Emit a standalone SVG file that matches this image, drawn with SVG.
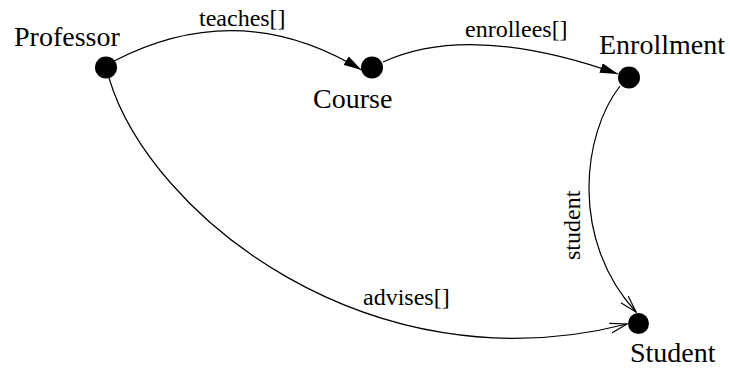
<svg xmlns="http://www.w3.org/2000/svg" width="730" height="371" viewBox="0 0 730 371">
<style>
  text { fill: #000; font-family: Liberation Serif, Times New Roman, Times, DejaVu Serif, serif; }
  .name { font-size: 28px; }
  .lbl { font-size: 24px; }
  .dot { fill: #000; }
  .edge { fill: none; stroke: #000; stroke-width: 1.2; }
</style>
<defs>
  <marker id="filled" viewBox="0 0 18 10" refX="18" refY="5" markerWidth="18" markerHeight="10" markerUnits="userSpaceOnUse" orient="auto">
    <path d="M0,0 L18,5 L0,10 Z" fill="#000"/>
  </marker>
  <marker id="open" viewBox="0 0 18 12" refX="17" refY="6" markerWidth="18" markerHeight="12" markerUnits="userSpaceOnUse" orient="auto">
    <path d="M0,1 L17,6 L0,11" fill="none" stroke="#000" stroke-width="1.2"/>
  </marker>
</defs>
<g id="connectors">
  <path id="teaches" class="edge" d="M114,61 Q240,-4 361.5,70" marker-end="url(#filled)"/>
  <path id="enrollees" class="edge" d="M383,62 Q470,22 618,74" marker-end="url(#filled)"/>
  <path id="student-edge" class="edge" d="M620,86 C582,135 570,240 636,312" marker-end="url(#open)"/>
  <path id="advises" class="edge" d="M109,78 C150,215 370,390 627,324" marker-end="url(#open)"/>
  <text class="lbl" x="199" y="26">teaches[]</text>
  <text class="lbl" x="465" y="37">enrollees[]</text>
  <text class="lbl" x="363" y="305">advises[]</text>
  <text class="lbl" transform="translate(580,260) rotate(-90)">student</text>
</g>
<g id="professor">
  <circle class="dot" cx="106" cy="67.5" r="11"/>
  <text class="name" x="14" y="46">Professor</text>
</g>
<g id="course">
  <circle class="dot" cx="372" cy="67.5" r="11"/>
  <text class="name" x="313" y="108">Course</text>
</g>
<g id="enrollment">
  <circle class="dot" cx="629" cy="77.5" r="11"/>
  <text class="name" x="599" y="54">Enrollment</text>
</g>
<g id="student">
  <circle class="dot" cx="638.5" cy="323.5" r="10.5"/>
  <text class="name" x="630" y="362">Student</text>
</g>
</svg>
